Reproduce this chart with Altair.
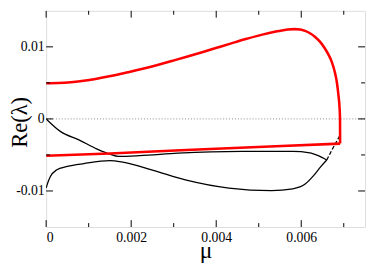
import altair as alt
import pandas as pd

# Upper red branch (from mu=0 up over the peak and down the vertical edge)
red_up_mu = [0, 0.000286, 0.000583, 0.000926, 0.001269, 0.001611, 0.001954, 0.002297, 0.00264,
             0.002983, 0.003326, 0.003669, 0.004011, 0.004354, 0.004697, 0.004971, 0.005246,
             0.005474, 0.00568, 0.00584, 0.005977, 0.006091, 0.006206, 0.00632, 0.006434,
             0.006549, 0.00664, 0.00672, 0.006789, 0.006841, 0.006878, 0.006901, 0.006912, 0.006914]
red_up_re = [0.004954, 0.00498, 0.005085, 0.00532, 0.005671, 0.006063, 0.006519, 0.007001, 0.007523,
             0.008083, 0.008657, 0.009257, 0.00987, 0.010482, 0.011082, 0.011525, 0.011917,
             0.012203, 0.012412, 0.012464, 0.012412, 0.012216, 0.011891, 0.011408, 0.010756,
             0.009844, 0.008931, 0.007888, 0.006519, 0.004954, 0.003129, 0.001565, 0.0, -0.003429]
# Lower red branch
red_lo_mu = [0, 0.0015, 0.0033, 0.0054, 0.006914]
red_lo_re = [-0.0051, -0.0048, -0.0043, -0.0038, -0.003429]

# Black curve A (from origin)
blk_a_mu = [0, 0.00035, 0.00077, 0.0012, 0.0015, 0.0017, 0.0022, 0.0031, 0.0046, 0.0058,
            0.0062, 0.0064, 0.0066]
blk_a_re = [0, -0.0018, -0.0029, -0.0042, -0.0049, -0.0052, -0.0051, -0.00475, -0.0045, -0.0045,
            -0.0047, -0.0051, -0.0057]
# Black curve B (from -0.0096)
blk_b_mu = [0, 0.00003, 0.0001, 0.00024, 0.0005, 0.00089, 0.0015, 0.0018, 0.0025, 0.0033,
            0.0043, 0.0053, 0.0058, 0.0061, 0.0063, 0.00645, 0.0066]
blk_b_re = [-0.0096, -0.0090, -0.0080, -0.0071, -0.0066, -0.0062, -0.0058, -0.0060, -0.0071, -0.0085,
            -0.0096, -0.00995, -0.0097, -0.0090, -0.0078, -0.0067, -0.0057]
# Dashed black continuation
blk_d_mu = [0.0066, 0.00675, 0.00691]
blk_d_re = [-0.0057, -0.0040, -0.0023]

x_major = [0, 0.002, 0.004, 0.006]
x_minor = [0.001, 0.003, 0.005, 0.007]
y_major = [-0.01, 0, 0.01]
y_minor = [-0.005, 0.005]

W, H = 326, 221
XD = [0, 0.0075]
YD = [-0.015, 0.015]
FONT = "Liberation Serif"


def df(mu, re):
    return pd.DataFrame({"mu": mu, "re": re, "i": range(len(mu))})


xs = alt.Scale(domain=XD, nice=False, zero=False)
ys = alt.Scale(domain=YD, nice=False, zero=False)

xaxis = alt.Axis(values=x_major, labelExpr="datum.value + ''", ticks=False, domain=False, grid=False,
                 title="μ", titleFont=FONT, titleFontSize=24, titleFontWeight="normal",
                 titleColor="black", titleY=31, titleBaseline="alphabetic",
                 labelFont=FONT, labelFontSize=14,
                 labelColor="black", labelPadding=4)
yaxis = alt.Axis(values=y_major, labelExpr="datum.value + ''", ticks=False, domain=False, grid=False,
                 title="Re(λ)", titleFont=FONT, titleFontSize=23, titleFontWeight="normal",
                 titleColor="black", titleX=-27, titleY=H / 2 + 3, titleAngle=-90,
                 titleBaseline="middle", titleAlign="center",
                 labelFont=FONT, labelFontSize=14, labelColor="black", labelPadding=2)

X = alt.X("mu:Q", scale=xs, axis=xaxis)
Y = alt.Y("re:Q", scale=ys, axis=yaxis)


def line(data, color, width, dash=None, interp="monotone"):
    kw = dict(color=color, strokeWidth=width, interpolate=interp, clip=True)
    if dash:
        kw["strokeDash"] = dash
    return alt.Chart(data).mark_line(**kw).encode(x=X, y=Y, order="i:Q")


zero = alt.Chart(pd.DataFrame({"re": [0]})).mark_rule(
    color="#888888", strokeWidth=1, strokeDash=[1, 2]).encode(y=Y)

TC = "black"


def xticks(vals, length):
    d = pd.DataFrame({"mu": vals})
    top = alt.Chart(d).mark_rule(color=TC, strokeWidth=1).encode(
        x=X, y=alt.value(0), y2=alt.value(length))
    bot = alt.Chart(d).mark_rule(color=TC, strokeWidth=1).encode(
        x=X, y=alt.value(H), y2=alt.value(H - length))
    return [top, bot]


def yticks(vals, length):
    d = pd.DataFrame({"re": vals})
    left = alt.Chart(d).mark_rule(color=TC, strokeWidth=1).encode(
        y=Y, x=alt.value(0), x2=alt.value(length))
    right = alt.Chart(d).mark_rule(color=TC, strokeWidth=1).encode(
        y=Y, x=alt.value(W), x2=alt.value(W - length))
    return [left, right]


layers = [
    zero,
    line(df(blk_a_mu, blk_a_re), "black", 1.3),
    line(df(blk_b_mu, blk_b_re), "black", 1.3),
    line(df(blk_d_mu, blk_d_re), "black", 1.3, dash=[4, 2], interp="linear"),
    line(df(red_up_mu, red_up_re), "#ff0000", 2.6),
    line(df(red_lo_mu, red_lo_re), "#ff0000", 2.6),
] + xticks(x_major, 7) + xticks(x_minor, 4) + yticks(y_major, 7) + yticks(y_minor, 4)

chart = alt.layer(*layers).properties(
    width=W, height=H, autosize="none",
    padding={"left": 39, "top": 0, "right": 1, "bottom": 38},
).configure_view(stroke="black", strokeWidth=1).configure(background="white")

chart.save("out.html", embed_options={"renderer": "svg", "actions": False})
